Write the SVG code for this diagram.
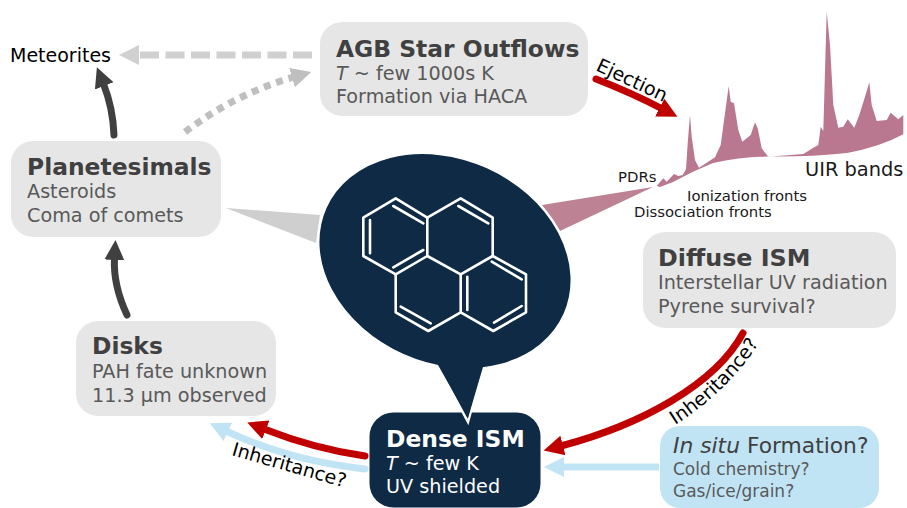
<svg xmlns="http://www.w3.org/2000/svg" width="907" height="508" viewBox="0 0 907 508">
<style>
text{font-family:"DejaVu Sans","Liberation Sans",sans-serif}
.box{fill:#e6e6e6}
.h{font-size:23.4px;font-weight:700;fill:#404040}
.b{font-size:19.2px;fill:#595959}
.w{fill:#fff}
.lbl{font-size:19px;fill:#000}
.sm{font-size:14.85px;fill:#1a1a1a}
.conn{fill:none;stroke-linecap:round}
.mol{fill:none;stroke:#fff;stroke-width:2.6;stroke-linejoin:round;stroke-linecap:round}
</style>
<defs>
<marker id="aRed" markerUnits="userSpaceOnUse" markerWidth="24" markerHeight="24" refX="2" refY="12" orient="auto"><path d="M0,2 L20,12 L0,22 Z" fill="#c00000"/></marker>
<marker id="aDark" markerUnits="userSpaceOnUse" markerWidth="24" markerHeight="24" refX="2" refY="12" orient="auto"><path d="M0,2 L20,12 L0,22 Z" fill="#404040"/></marker>
<marker id="aBlue" markerUnits="userSpaceOnUse" markerWidth="24" markerHeight="24" refX="2" refY="12" orient="auto"><path d="M0,2 L20,12 L0,22 Z" fill="#c1e4f5"/></marker>
<marker id="aLG" markerUnits="userSpaceOnUse" markerWidth="24" markerHeight="24" refX="2" refY="12" orient="auto"><path d="M0,2 L20,12 L0,22 Z" fill="#d0d0d0"/></marker>
<marker id="aMG" markerUnits="userSpaceOnUse" markerWidth="24" markerHeight="24" refX="2" refY="12" orient="auto"><path d="M0,2 L20,12 L0,22 Z" fill="#bfbfbf"/></marker>
<path id="inhR" d="M675,425 Q733,388 764,335"/>
</defs>

<g id="spectrum">
<path fill="#b9788f" d="M656.700,186 L663.300,178.300 L666.700,181.700 L674,174 L678.300,176 L682.700,175 L686,169.300 L687.700,143.300 L690,115 L691.700,136.700 L695,160 L699,167.700 L706.700,162.700 L715,157.300 L720.700,145 L725,113.300 L728.700,86 L730.700,101.700 L734,103.300 L738.300,130 L742.300,141.700 L746.700,138.300 L750.700,135 L755,122.300 L757.700,128.300 L761.700,148.300 L768.300,156.700 L803.300,154 L813.300,147.700 L818.300,145 L820.700,126.700 L823.300,131 L826.700,11.700 L830,45 L833.300,105 L838.300,127.700 L843.300,126.700 L847.700,119.300 L854.300,127.700 L859.300,115 L865,96.700 L869.300,82.300 L871.700,105 L876.700,121 L886.700,120 L890.700,112.700 L898.300,119.300 L903.300,115 L903.300,134.300 Q880,147 847,153 Q810,157 768,156.500 Q740,157 713,163 Q693,171 673,182 L660,187 Z"/>
<path fill="#bd8395" d="M653,187 L542,205 L560,231 Z"/>
<text class="sm" x="618" y="182">PDRs</text>
<text class="sm" x="687" y="201">Ionization fronts</text>
<text class="sm" x="634" y="217">Dissociation fronts</text>
<text x="805" y="176" font-size="19.400" fill="#1a1a1a">UIR bands</text>
</g>

<path fill="#cfcfcf" d="M226,208 L320,215 L316,243 Z"/>

<g id="dense-ism">
<rect x="369.500" y="412.500" width="171" height="95" rx="24" fill="#0f2a45"/>
</g>

<g id="pyrene">
<ellipse cx="445" cy="261" rx="131" ry="103" transform="rotate(24 445 261)" fill="#0f2a45" stroke="#fff" stroke-width="2.500"/>
<path fill="#0f2a45" stroke="#fff" stroke-width="2.500" d="M437.500,365 L468,422 L483,367"/>
<path fill="#0f2a45" d="M434,360 L490,360 L483,367 L468,418 L438,365 Z"/>
<g class="mol">
<path d="M395.700,198.300 L427.300,217.700 L427.300,256 L395.700,274.300 L363.300,256 L363.300,217.700 Z"/>
<path d="M427.300,217.700 L460.700,198.300 L492.700,217.700 L492.700,256 L460.700,274.300 L427.300,256"/>
<path d="M395.700,274.300 L395.700,312.300 L428.300,331 L460.700,312.300 L460.700,274.300"/>
<path d="M492.700,256 L526,274.300 L526,312.300 L493.300,331 L460.700,312.300"/>
<path d="M393.300,206 L423.300,223.300 M370,220 L370,253.300 M393.300,267.300 L423.300,250 M458.300,206 L488.300,223.300 M491.700,261.700 L521.700,279.300 M521.700,306 L494,322.700 M467.300,276.700 L467.300,310 M400.700,306.700 L430.700,323.300"/>
</g>
</g>
<g id="dense-ism-text">
<text x="386" y="447" class="h w" style="fill:#fff">Dense ISM</text>
<text x="386" y="470" class="b w" style="fill:#fff"><tspan font-style="italic">T</tspan> ~ few K</text>
<text x="386" y="493" class="b w" style="fill:#fff">UV shielded</text>
</g>

<g id="agb">
<rect class="box" x="320" y="22" width="268" height="94" rx="22"/>
<text x="336" y="57" class="h">AGB Star Outflows</text>
<text x="336" y="80" class="b"><tspan font-style="italic">T</tspan> ~ few 1000s K</text>
<text x="336" y="103" class="b">Formation via HACA</text>
</g>
<g id="planetesimals">
<rect class="box" x="11" y="141" width="210" height="96" rx="22"/>
<text x="27" y="175" class="h">Planetesimals</text>
<text x="27" y="198" class="b">Asteroids</text>
<text x="27" y="222" class="b">Coma of comets</text>
</g>
<g id="disks">
<rect class="box" x="76" y="321" width="200" height="95" rx="22"/>
<text x="92" y="354" class="h">Disks</text>
<text x="92" y="378" class="b">PAH fate unknown</text>
<text x="92" y="402" class="b">11.3 µm observed</text>
</g>
<g id="diffuse">
<rect class="box" x="643" y="232" width="253" height="96" rx="22"/>
<text x="658" y="266" class="h" style="font-size:23.8px">Diffuse ISM</text>
<text x="658" y="289" class="b">Interstellar UV radiation</text>
<text x="658" y="313" class="b">Pyrene survival?</text>
</g>
<g id="insitu">
<rect x="660" y="426" width="219" height="82" rx="20" fill="#c1e4f5"/>
<text x="673" y="453" font-size="21.800" fill="#404040"><tspan font-style="italic">In situ</tspan> Formation?</text>
<text x="673" y="475" font-size="17" fill="#595959">Cold chemistry?</text>
<text x="673" y="497" font-size="17" fill="#595959">Gas/ice/grain?</text>
</g>
<g id="meteorites"><text x="10" y="62" class="lbl">Meteorites</text></g>

<g id="connectors" class="conn">
<path d="M312,55 L137,55" stroke="#d0d0d0" stroke-width="7" stroke-dasharray="19 6.500" stroke-linecap="butt" marker-end="url(#aLG)"/>
<path d="M185,132 Q235,94 294,77" stroke="#bfbfbf" stroke-width="7" stroke-dasharray="7 6" stroke-linecap="butt" marker-end="url(#aMG)"/>
<path d="M114,135 Q113,108 103.500,84" stroke="#404040" stroke-width="7" marker-end="url(#aDark)"/>
<path d="M127,315 Q113,285 114.500,258" stroke="#404040" stroke-width="7" marker-end="url(#aDark)"/>
<path d="M596,79 Q632,93 661.500,108.500" stroke="#c00000" stroke-width="7" marker-end="url(#aRed)"/>
<path d="M743,333 C715,385 640,425 561,446" stroke="#c00000" stroke-width="7" marker-end="url(#aRed)"/>
<path d="M659,467 L562,467" stroke="#c1e4f5" stroke-width="7" stroke-linecap="butt" marker-end="url(#aBlue)"/>
<path d="M365,456 Q315,449 264,429" stroke="#c00000" stroke-width="7" marker-end="url(#aRed)"/>
<path d="M365,469 Q290,461 226,431" stroke="#c1e4f5" stroke-width="7" marker-end="url(#aBlue)"/>
</g>

<g id="labels">
<text class="lbl" transform="translate(595,70) rotate(25)">Ejection</text>
<text class="lbl"><textPath href="#inhR">Inheritance?</textPath></text>
<text class="lbl" transform="translate(231,455) rotate(16)">Inheritance?</text>
</g>
</svg>
